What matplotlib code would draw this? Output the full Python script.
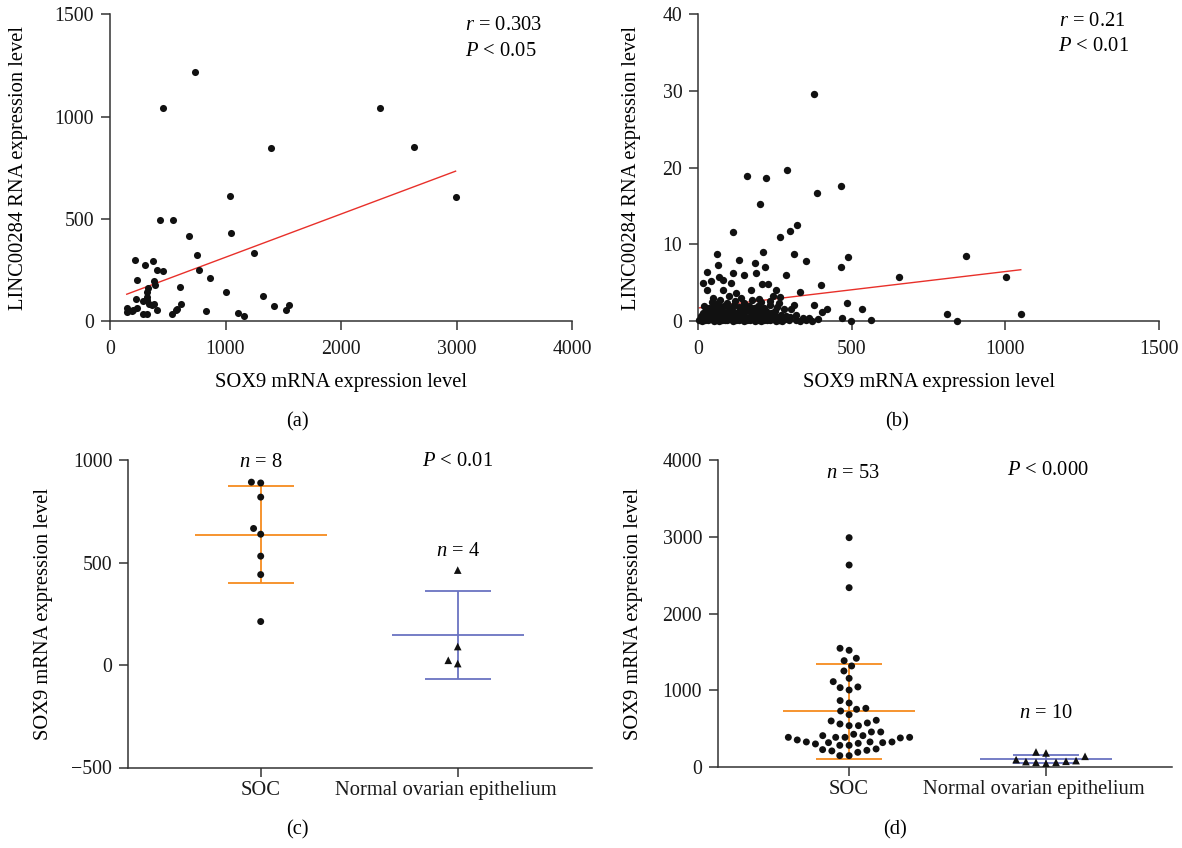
import matplotlib.pyplot as plt
import matplotlib.transforms as mtransforms
import numpy as np
import pandas as pd
import seaborn as sns

plt.rcParams['font.family'] = ['Liberation Serif', 'DejaVu Serif']
plt.rcParams['mathtext.fontset'] = 'custom'
plt.rcParams['mathtext.rm'] = 'Liberation Serif'
plt.rcParams['mathtext.it'] = 'Liberation Serif:italic'

dot_color = '#111111'
fit_color = '#e8302a'
soc_color = '#f68b1f'
normal_color = '#6a73c1'
spine_color = '#333333'

# (a) SOX9 vs LINC00284, SOC samples
sox9_a = [735, 463, 2340, 2635, 1390, 1040, 2992, 429, 542, 686, 1045, 756, 1251, 214,
          376, 301, 411, 458, 770, 235, 385, 869, 391, 330, 602, 1002, 1323, 319, 223,
          324, 284, 339, 385, 611, 1419, 1549, 145, 235, 188, 145, 411, 568, 834, 1520,
          284, 321, 539, 1112, 1156, 579, 362, 203, 319]
linc_a = [1220, 1044, 1044, 850, 844, 609, 607, 493, 495, 417, 430, 323, 333, 300,
          294, 273, 247, 243, 247, 200, 195, 209, 174, 159, 164, 140, 123, 140, 110,
          118, 96, 81, 81, 84, 73, 80, 63, 63, 50, 42, 55, 55, 50, 55,
          34, 34, 34, 37, 23, 60, 76, 55, 104]
fit_a = (0.2114, 100.3)  # slope, intercept

# (b) SOX9 vs LINC00284, public cohort
sox9_b = [378, 160, 220, 288, 464, 387, 201, 113, 321, 300, 267, 62, 210, 311, 486, 872,
          64, 133, 184, 351, 216, 465, 28, 113, 150, 187, 286, 655, 1003, 14, 40, 68,
          79, 105, 208, 227, 399, 28, 81, 172, 253, 332, 124, 47, 101, 139, 197, 243,
          267, 25, 65, 378, 485, 420, 403, 532, 809, 1050, 469, 498, 561, 842, 313, 302,
          318, 340, 362, 389, 264, 280,
          3, 12, 22, 31, 40, 50, 58, 68, 77, 86, 95, 104, 113, 122, 131, 140, 150, 159,
          168, 177, 186, 196, 205, 214, 224, 233, 243, 252, 262, 272, 283, 296, 318, 330,
          352, 370,
          8, 18, 30, 42, 53, 63, 74, 85, 96, 106, 117, 128, 139, 149, 160, 171, 181, 192,
          203, 213, 226, 240, 255, 270, 285, 300,
          15, 27, 40, 52, 64, 76, 88, 99, 111, 123, 135, 147, 158, 170, 182, 195, 207,
          220, 236, 250,
          20, 36, 52, 68, 84, 100, 116, 132, 148, 164, 180, 196, 214, 232, 255,
          45, 70, 95, 120, 148, 175, 205, 235, 262]
linc_b = [29.65, 18.9, 18.7, 19.65, 17.6, 16.65, 15.2, 11.6, 12.5, 11.7, 11.0, 8.7, 9.0,
          8.8, 8.4, 8.5, 7.3, 7.9, 7.6, 7.8, 7.0, 7.0, 6.35, 6.2, 6.0, 6.3, 6.0, 5.7, 5.8,
          4.9, 5.2, 5.7, 5.3, 5.0, 4.8, 4.8, 4.7, 4.1, 4.0, 4.1, 4.0, 3.8, 3.7, 3.0, 3.3,
          3.0, 2.9, 3.3, 3.1, 1.7, 2.35, 2.1, 2.35, 1.6, 1.2, 1.5, 0.9, 0.9, 0.43, 0.04,
          0.17, 0.05, 2.1, 1.5, 0.8, 0.4, 0.4, 0.3, 0.17, 1.5,
          0.1, 0.05, 0.15, 0.08, 0.2, 0.05, 0.12, 0.02, 0.18, 0.07, 0.1, 0.22, 0.04, 0.14,
          0.09, 0.2, 0.03, 0.16, 0.08, 0.25, 0.05, 0.12, 0.02, 0.18, 0.07, 0.1, 0.2, 0.04,
          0.15, 0.06, 0.22, 0.08, 0.12, 0.03, 0.1, 0.05,
          0.6, 0.45, 0.75, 0.55, 0.8, 0.5, 0.7, 0.6, 0.85, 0.5, 0.65, 0.9, 0.55, 0.75,
          0.45, 0.8, 0.6, 0.7, 0.5, 0.85, 0.6, 0.7, 0.5, 0.8, 0.6, 0.55,
          1.1, 1.3, 1.0, 1.4, 1.15, 1.35, 1.05, 1.25, 1.45, 1.1, 1.3, 1.0, 1.4, 1.2, 1.05,
          1.35, 1.15, 1.3, 1.0, 1.25,
          1.9, 1.7, 2.05, 1.8, 1.95, 1.65, 2.1, 1.85, 1.7, 2.0, 1.75, 1.9, 1.7, 2.05, 1.8,
          2.5, 2.7, 2.4, 2.6, 2.3, 2.75, 2.45, 2.6, 2.4]
fit_b = (0.00475, 1.7)

# (c) SOX9 in tissue samples
groups = ['SOC', 'Normal ovarian epithelium']
soc_c = [892, 888, 819, 666, 638, 531, 441, 212]
normal_c = [463, 90, 7, 23]

# (d) SOX9 in the larger cohort
soc_d = [2989, 2633, 2338, 1549, 1523, 1419, 1388, 1319, 1254, 1158, 1115, 1046, 1006,
         1037, 868, 837, 768, 755, 733, 685, 612, 577, 603, 542, 542, 564, 460, 430, 412,
         412, 460, 390, 390, 356, 330, 321, 312, 286, 286, 304, 321, 330, 330, 382, 390,
         390, 239, 221, 195, 152, 152, 213, 230]
normal_d = [200, 187, 143, 100, 78, 65, 52, 65, 74, 87]

W, H = 1182, 848
fig = plt.figure(figsize=(W / 100, H / 100), dpi=100)

TXT = 14.8
TICK = 14.3


def px(left, top, right, bottom):
    return [left / W, 1 - bottom / H, (right - left) / W, (bottom - top) / H]


def style(ax):
    for side in ['top', 'right']:
        ax.spines[side].set_visible(False)
    for side in ['left', 'bottom']:
        ax.spines[side].set_color(spine_color)
        ax.spines[side].set_linewidth(1.1)
    ax.tick_params(direction='out', length=6.5, width=1.1, color=spine_color,
                   labelsize=TICK, labelcolor='#1a1a1a')
    ax.tick_params(axis='y', pad=5)
    ax.tick_params(axis='x', pad=7)


def scatter_panel(ax, x, y, fit, size, xlim, ylim, xticks, yticks, stats, ylabel_x, tag, tag_x):
    ax.scatter(x, y, s=size, color=dot_color, linewidths=0, zorder=3, clip_on=False)
    xs = np.array([min(x), max(x)])
    ax.plot(xs, fit[0] * xs + fit[1], color=fit_color, lw=1.0, zorder=2)
    ax.set_xlim(*xlim)
    ax.set_ylim(*ylim)
    ax.set_xticks(xticks)
    ax.set_yticks(yticks)
    style(ax)
    ax.set_xlabel('SOX9 mRNA expression level', fontsize=TXT, va='center')
    ax.xaxis.set_label_coords(0.5, -0.202)
    ax.set_ylabel('LINC00284 RNA expression level', fontsize=TXT, va='center')
    ax.yaxis.set_label_coords(ylabel_x, 0.5)
    for (tx, ty, s) in stats:
        ax.text(tx, ty, s, fontsize=TXT, ha='left', va='center')
    ax.text(tag_x, -0.329, tag, transform=ax.transAxes, fontsize=TXT, ha='center', va='center')


def group_panel(ax, soc, normal, ylim, yticks, notes, ylabel_x, tag, tag_x):
    df_soc = pd.DataFrame({'group': groups[0], 'value': soc})
    df_norm = pd.DataFrame({'group': groups[1], 'value': normal})
    sns.swarmplot(data=df_soc, x='group', y='value', order=groups, color=dot_color,
                  size=5, marker='o', linewidth=1.4, edgecolor='none', ax=ax, zorder=4)
    sns.swarmplot(data=df_norm, x='group', y='value', order=groups, color=dot_color,
                  size=5.5, marker='^', linewidth=1.4, edgecolor='none', ax=ax, zorder=4)
    for i, (vals, col) in enumerate([(soc, soc_color), (normal, normal_color)]):
        m = np.mean(vals)
        sd = np.std(vals, ddof=1)
        ax.hlines(m, i - 0.335, i + 0.335, color=col, lw=1.3, zorder=2)
        ax.vlines(i, m - sd, m + sd, color=col, lw=1.3, zorder=2)
        ax.hlines([m - sd, m + sd], i - 0.167, i + 0.167, color=col, lw=1.3, zorder=2)
    ax.set_ylim(*ylim)
    ax.set_yticks(yticks)
    ax.set_xticks([0, 1])
    ax.set_xticklabels(groups)
    style(ax)
    ax.tick_params(axis='x', pad=3, labelsize=TXT)
    lbl = ax.get_xticklabels()[1]
    lbl.set_transform(lbl.get_transform() + mtransforms.ScaledTranslation(-0.12, 0, fig.dpi_scale_trans))
    ax.set_xlabel('')
    ax.set_ylabel('SOX9 mRNA expression level', fontsize=TXT, va='center')
    ax.yaxis.set_label_coords(ylabel_x, 0.5)
    for (tx, ty, s) in notes:
        ax.text(tx, ty, s, fontsize=TXT, ha='center', va='center')
    ax.text(tag_x, -0.203, tag, transform=ax.transAxes, fontsize=TXT, ha='center', va='center')


ax_a = fig.add_axes(px(110, 14.3, 572, 321))
scatter_panel(ax_a, sox9_a, linc_a, fit_a, 26, (0, 4000), (0, 1500),
              [0, 1000, 2000, 3000, 4000], [0, 500, 1000, 1500],
              [(3076, 1443, '$r$ = 0.303'), (3076, 1317, '$P$ < 0.05')],
              -0.199, '(a)', 0.405)

ax_b = fig.add_axes(px(698.3, 14.3, 1159, 321))
scatter_panel(ax_b, sox9_b, linc_b, fit_b, 28, (0, 1500), (0, 40),
              [0, 500, 1000, 1500], [0, 10, 20, 30, 40],
              [(1174, 39.0, '$r$ = 0.21'), (1171, 35.8, '$P$ < 0.01')],
              -0.146, '(b)', 0.431)

ax_c = fig.add_axes(px(128.3, 460, 591.7, 767.5))
ax_c.set_xlim(-0.672, 1.68)
group_panel(ax_c, soc_c, normal_c, (-500, 1000), [-500, 0, 500, 1000],
            [(0, 989, '$n$ = 8'), (1.0, 992, '$P$ < 0.01'), (1.0, 553, '$n$ = 4')],
            -0.182, '(c)', 0.364)
ax_c.set_xlim(-0.672, 1.68)

ax_d = fig.add_axes(px(718, 460, 1172, 767.3))
group_panel(ax_d, soc_d, normal_d, (0, 4000), [0, 1000, 2000, 3000, 4000],
            [(0.017, 3827, '$n$ = 53'), (1.009, 3860, '$P$ < 0.000'), (0.997, 703, '$n$ = 10')],
            -0.187, '(d)', 0.389)
ax_d.set_xlim(-0.666, 1.64)

fig.savefig('out.png', dpi=100)
